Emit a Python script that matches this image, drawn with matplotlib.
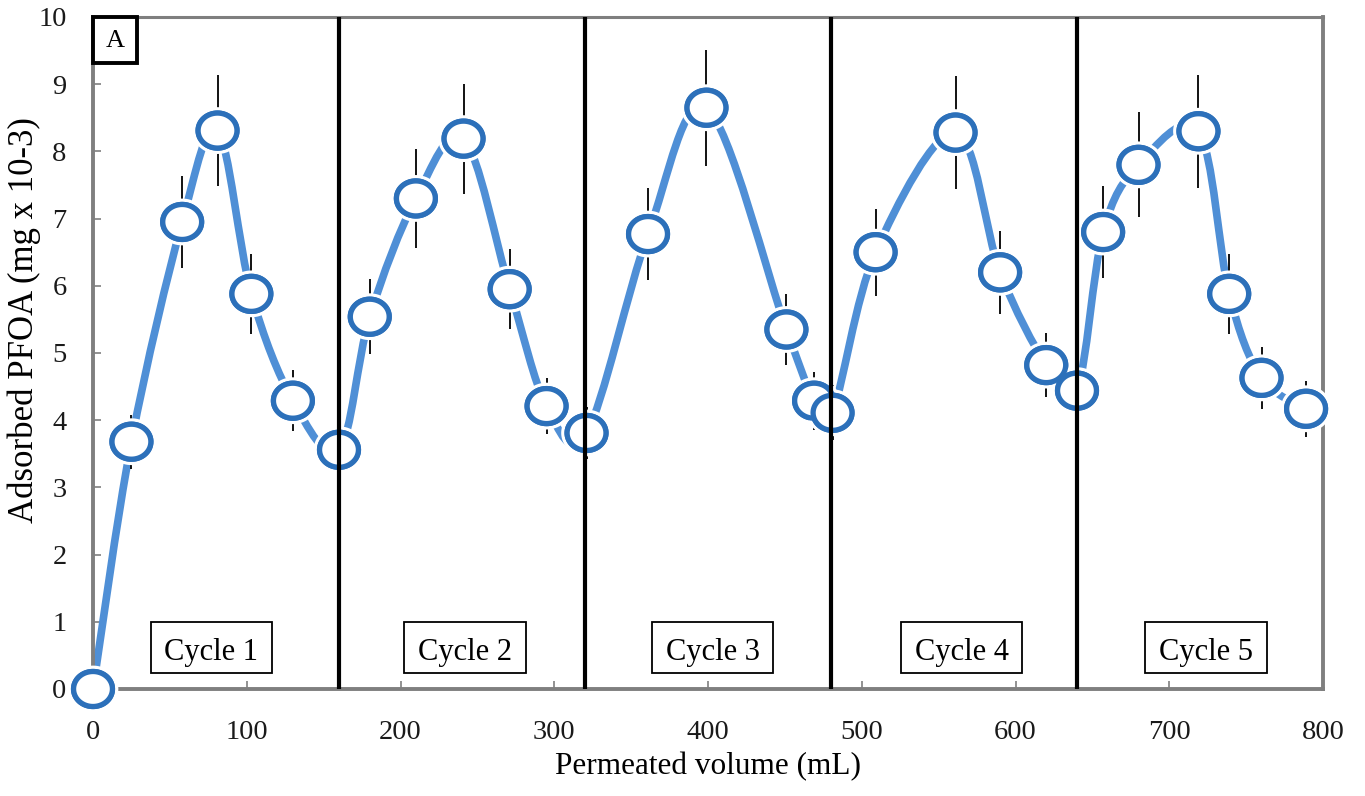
import numpy as np
import matplotlib
matplotlib.use("Agg")
import matplotlib.pyplot as plt
from matplotlib.path import Path
from matplotlib.patches import PathPatch, Rectangle
import matplotlib.patheffects as pe

# Permeated volume (mL) and adsorbed PFOA (mg x 10^-3) over five cycles
volume = [0, 25, 58, 81, 103, 130, 160,
          180, 210, 241, 271, 295, 321,
          361, 399, 451, 469, 481,
          509, 561, 590, 620, 640,
          657, 680, 719, 739, 760, 789]
adsorbed = [0.0, 3.68, 6.95, 8.31, 5.88, 4.29, 3.56,
            5.54, 7.30, 8.19, 5.95, 4.21, 3.81,
            6.77, 8.65, 5.35, 4.29, 4.11,
            6.50, 8.28, 6.20, 4.82, 4.44,
            6.80, 7.80, 8.30, 5.88, 4.63, 4.17]
error = [0.0, 0.40, 0.69, 0.83, 0.60, 0.45, 0.36,
         0.56, 0.74, 0.82, 0.60, 0.42, 0.38,
         0.68, 0.86, 0.53, 0.43, 0.41,
         0.65, 0.84, 0.62, 0.48, 0.44,
         0.68, 0.78, 0.84, 0.59, 0.46, 0.42]

cycle_labels = ["Cycle 1", "Cycle 2", "Cycle 3", "Cycle 4", "Cycle 5"]
cycle_label_x = [77, 242, 403, 565, 724]
cycle_bounds = [160, 320, 480, 640]

x_ticks = [0, 100, 200, 300, 400, 500, 600, 700, 800]
y_ticks = list(range(0, 11))

LINE_BLUE = "#4F8FD6"
EDGE_BLUE = "#2C70BA"
SPINE_GRAY = "#7F7F7F"
SERIF = ["Liberation Serif", "DejaVu Serif"]

plt.rcParams["font.family"] = SERIF

fig = plt.figure(figsize=(13.65, 7.96), dpi=100)
ax = fig.add_axes([93 / 1365, 1 - 689 / 796, (1323 - 93) / 1365, (689 - 17) / 796])
ax.set_xlim(0, 800)
ax.set_ylim(0, 10)

# smoothed curve through the points (cubic Bezier, Catmull-Rom style tangents)
pts = np.column_stack([volume, adsorbed]).astype(float)
n = len(pts)
verts = [pts[0]]
codes = [Path.MOVETO]
for i in range(n - 1):
    p0 = pts[i - 1] if i > 0 else pts[i]
    p1 = pts[i]
    p2 = pts[i + 1]
    p3 = pts[i + 2] if i + 2 < n else pts[i + 1]
    c1 = p1 + (p2 - p0) / 6.0
    c2 = p2 - (p3 - p1) / 6.0
    verts += [c1, c2, p2]
    codes += [Path.CURVE4] * 3
curve = PathPatch(Path(verts, codes), facecolor="none", edgecolor=LINE_BLUE,
                  linewidth=5.5, capstyle="butt", joinstyle="round", zorder=3)
ax.add_patch(curve)

# error bars
ax.errorbar(volume, adsorbed, yerr=error, fmt="none", ecolor="black",
            elinewidth=1.3, capsize=0, zorder=4)

# slightly flattened circular markers with a white halo
theta = np.linspace(0, 2 * np.pi, 73)
ell = Path(np.column_stack([np.cos(theta), 0.9 * np.sin(theta)]), closed=True)
ax.plot(volume, adsorbed, linestyle="none", marker=ell, markersize=28,
        markerfacecolor="white", markeredgecolor=EDGE_BLUE, markeredgewidth=3.8,
        clip_on=False, zorder=6,
        path_effects=[pe.withStroke(linewidth=8.5, foreground="white"), pe.Normal()])

# cycle separators
for xb in cycle_bounds:
    ax.axvline(xb, color="black", linewidth=3.0, zorder=6.5)

# cycle labels in framed boxes
box_w, box_h, box_yc = 79, 0.76, 0.62
for lab, xc in zip(cycle_labels, cycle_label_x):
    ax.add_patch(Rectangle((xc - box_w / 2, box_yc - box_h / 2), box_w, box_h,
                           facecolor="white", edgecolor="black", linewidth=1.3,
                           zorder=7))
    ax.text(xc, 0.43, lab, ha="center", va="baseline", fontsize=22,
            color="black", zorder=8)

# panel letter
ax.add_patch(Rectangle((0, 1 - 46 / 672), 44 / 1230, 46 / 672, transform=ax.transAxes,
                       facecolor="white", edgecolor="black", linewidth=2.8,
                       zorder=8, clip_on=False))
ax.text(22 / 1230, 1 - 24 / 672, "A", transform=ax.transAxes, ha="center",
        va="center", fontsize=19, zorder=9)

# axes styling
for side in ["left", "bottom", "right", "top"]:
    ax.spines[side].set_color(SPINE_GRAY)
    ax.spines[side].set_linewidth(2.8)
    ax.spines[side].set_zorder(5.5)
ax.spines["top"].set_linewidth(2.2)

ax.set_xticks(x_ticks)
ax.set_yticks(y_ticks)
ax.set_xticklabels([str(v) for v in x_ticks])
ax.set_yticklabels([str(v) for v in y_ticks])
ax.tick_params(axis="both", direction="in", length=6, width=1.2, color=SPINE_GRAY,
               labelsize=20.5, labelcolor="#1a1a1a")
ax.tick_params(axis="x", pad=22)
ax.tick_params(axis="y", pad=19)
ax.tick_params(top=False, right=False)

ax.set_xlabel("Permeated volume (mL)", fontsize=22.5)
ax.set_ylabel("Adsorbed PFOA (mg x 10-3)", fontsize=25)
ax.xaxis.set_label_coords(0.5, -0.093)
ax.yaxis.set_label_coords(-0.042, 0.549)

fig.savefig("out.png", dpi=100, facecolor="white")
